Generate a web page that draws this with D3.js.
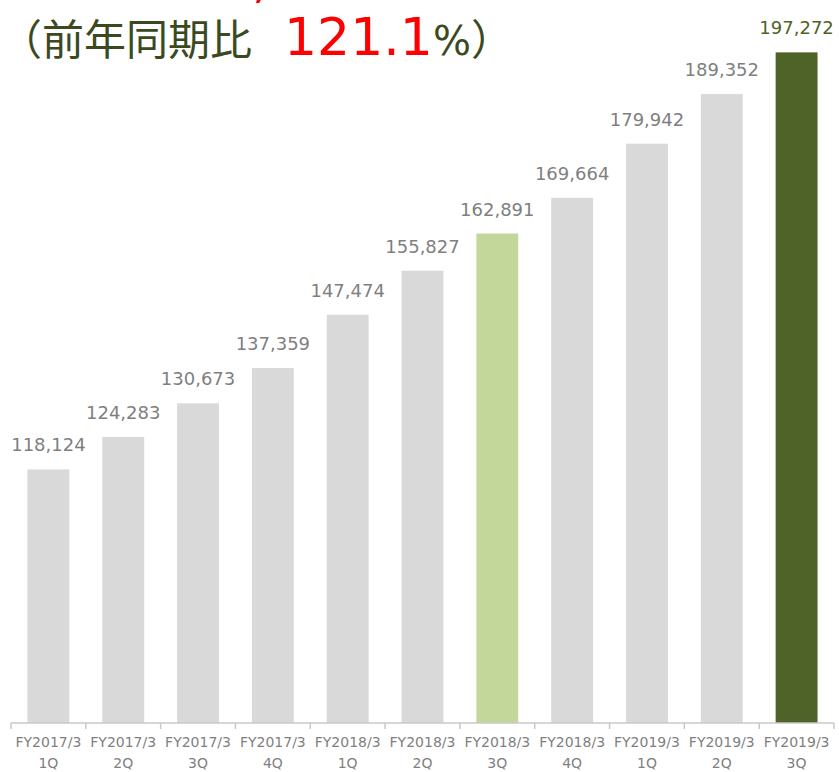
<!DOCTYPE html>
<html>
<head>
<meta charset="utf-8">
<script src="https://cdn.jsdelivr.net/npm/d3@7"></script>
<style>
  body { margin: 0; background: #fff; }
  svg { display: block; }
</style>
</head>
<body>
<svg width="839" height="772"></svg>
<script>
var svg = d3.select("svg");

// data
var periods = ["FY2017/3", "FY2017/3", "FY2017/3", "FY2017/3", "FY2018/3", "FY2018/3",
               "FY2018/3", "FY2018/3", "FY2019/3", "FY2019/3", "FY2019/3"];
var quarters = ["1Q", "2Q", "3Q", "4Q", "1Q", "2Q", "3Q", "4Q", "1Q", "2Q", "3Q"];
var values = [118124, 124283, 130673, 137359, 147474, 155827, 162891, 169664, 179942, 189352, 197272];
var growth = "121.1";

var prevIdx = 6, curIdx = 10;

var x = d3.scaleBand()
  .domain(d3.range(values.length))
  .range([11, 834])
  .paddingInner(0.44)
  .paddingOuter(0.22);

var y = d3.scaleLinear()
  .domain([70000, 200000])
  .range([723, 38]);

function barColor(i) {
  if (i == curIdx) return "#4f6228";
  if (i == prevIdx) return "#c4d79b";
  return "#d9d9d9";
}

// bars
svg.append("g")
  .selectAll("rect")
  .data(values)
  .enter().append("rect")
  .attr("x", function(d, i) { return x(i); })
  .attr("y", function(d) { return y(d); })
  .attr("width", x.bandwidth())
  .attr("height", function(d) { return y.range()[0] - y(d); })
  .attr("fill", function(d, i) { return barColor(i); });

// value labels
svg.append("g")
  .selectAll("text")
  .data(values)
  .enter().append("text")
  .attr("x", function(d, i) { return x(i) + x.bandwidth() / 2; })
  .attr("y", function(d) { return y(d) - 18; })
  .attr("text-anchor", "middle")
  .attr("font-family", "DejaVu Sans, Verdana, sans-serif")
  .attr("font-size", 18)
  .attr("fill", function(d, i) { return i == curIdx ? "#4f6228" : "#7f7f7f"; })
  .text(function(d) { return d3.format(",")(d); });

// x axis
var axis = d3.axisBottom(x)
  .tickSize(0)
  .tickFormat("");

var gx = svg.append("g")
  .attr("transform", "translate(0," + y.range()[0] + ")")
  .call(axis);
gx.select(".domain").attr("stroke", "#c8c8c8").attr("stroke-width", 1.5)
  .attr("d", "M11,0H834");

// tick marks between categories
var step = x.step();
var edges = d3.range(values.length + 1).map(function(i) { return 11 + i * step; });
gx.selectAll(".sep")
  .data(edges)
  .enter().append("line")
  .attr("class", "sep")
  .attr("x1", function(d) { return d; })
  .attr("x2", function(d) { return d; })
  .attr("y1", 0)
  .attr("y2", 6)
  .attr("stroke", "#c8c8c8")
  .attr("stroke-width", 1.5);

var lbl = gx.selectAll(".lbl")
  .data(values)
  .enter().append("text")
  .attr("class", "lbl")
  .attr("text-anchor", "middle")
  .attr("font-family", "DejaVu Sans, Verdana, sans-serif")
  .attr("font-size", 14)
  .attr("fill", "#7f7f7f");
lbl.append("tspan")
  .attr("x", function(d, i) { return x(i) + x.bandwidth() / 2; })
  .attr("y", 24)
  .text(function(d, i) { return periods[i]; });
lbl.append("tspan")
  .attr("x", function(d, i) { return x(i) + x.bandwidth() / 2; })
  .attr("y", 45)
  .text(function(d, i) { return quarters[i]; });

// title (partly cut at the top)
svg.append("text")
  .attr("x", 252)
  .attr("y", -3)
  .attr("font-family", "DejaVu Sans, sans-serif")
  .attr("font-size", 52)
  .attr("fill", "#ff0000")
  .text(",");

var title = svg.append("text")
  .attr("x", 0)
  .attr("y", 55)
  .attr("fill", "#3b4a1e");
title.append("tspan")
  .attr("font-family", "Noto Sans CJK JP, sans-serif")
  .attr("font-size", 42)
  .text("（前年同期比");
title.append("tspan")
  .attr("x", 284)
  .attr("font-family", "DejaVu Sans, sans-serif")
  .attr("font-size", 52)
  .attr("fill", "#ff0000")
  .text(growth);
title.append("tspan")
  .attr("font-family", "DejaVu Sans, sans-serif")
  .attr("font-size", 40)
  .text("%");
title.append("tspan")
  .attr("font-family", "Noto Sans CJK JP, sans-serif")
  .attr("font-size", 42)
  .text("）");
</script>
</body>
</html>
